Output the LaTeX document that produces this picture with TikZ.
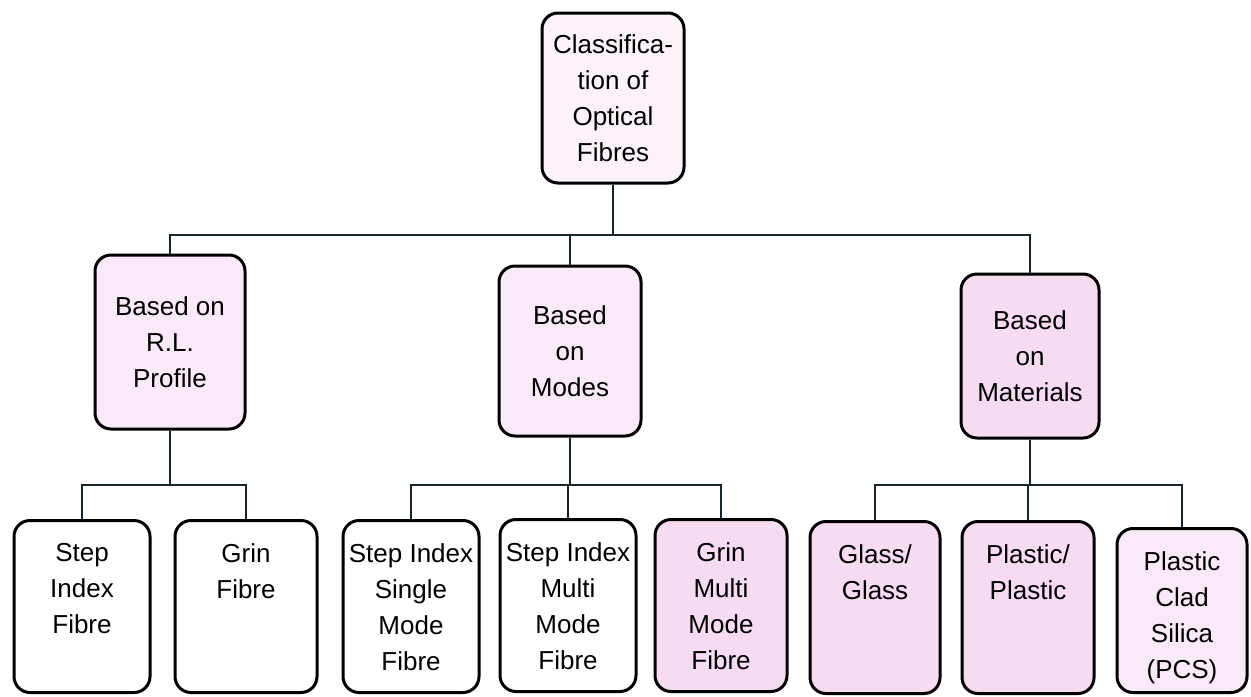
\documentclass[tikz,border=0pt]{standalone}
\usepackage{fontspec}
\setmainfont{Liberation Sans}
\usetikzlibrary{positioning}
\definecolor{rootpink}{RGB}{252,243,250}
\definecolor{boxpale}{RGB}{250,234,247}
\definecolor{boxpink}{RGB}{246,219,241}
\definecolor{linedark}{RGB}{22,38,44}

\begin{document}
\begin{tikzpicture}[
  x=0.5pt, y=-0.5pt,
  font=\fontsize{13}{18}\selectfont,
  group/.style={draw, line width=1.5pt, rounded corners=8pt, align=center, minimum width=71pt, minimum height=85pt, inner sep=0pt},
  leaf/.style={draw, line width=1.5pt, rounded corners=8pt, minimum width=68pt, minimum height=86pt, anchor=north, inner sep=0pt},
  leaftext/.style={anchor=north, align=center, inner sep=0pt, yshift=-12pt},
  conn/.style={draw=linedark, line width=1.4pt}
]
\useasboundingbox (0,0) rectangle (1251,696);

% top and middle level
\node[group, fill=rootpink] (root) at (613,98) {Classifica-\\tion of\\Optical\\Fibres};
\node[group, fill=boxpale, minimum width=75pt, minimum height=87pt] (profile) at (170,342) {Based on\\R.L.\\Profile};
\node[group, fill=boxpale] (modes) at (570,351) {Based\\on\\Modes};
\node[group, fill=boxpink, minimum width=69pt, minimum height=82pt] (materials) at (1030,356) {Based\\on\\Materials};

% bottom level
\node[leaf, fill=white, label={[leaftext]north:Step\\Index\\Fibre}] (stepidx) at (82,519) {};
\node[leaf, fill=white, minimum width=71pt, label={[leaftext]north:Grin\\Fibre}] (grin) at (246,519) {};
\node[leaf, fill=white, label={[leaftext]north:Step Index\\Single\\Mode\\Fibre}] (stepsingle) at (411,519) {};
\node[leaf, fill=white, label={[leaftext]north:Step Index\\Multi\\Mode\\Fibre}] (stepmulti) at (568,518) {};
\node[leaf, fill=boxpink, minimum width=66pt, label={[leaftext]north:Grin\\Multi\\Mode\\Fibre}] (grinmulti) at (721,518) {};
\node[leaf, fill=boxpink, minimum width=65pt, label={[leaftext]north:Glass/\\Glass}] (glass) at (875,520) {};
\node[leaf, fill=boxpink, minimum width=66pt, label={[leaftext]north:Plastic/\\Plastic}] (plastic) at (1028,520) {};
\node[leaf, fill=boxpale, minimum width=65pt, minimum height=82pt, label={[leaftext]north:Plastic\\Clad\\Silica\\(PCS)}] (pcs) at (1182,527) {};

\coordinate (topbar) at (0,235);
\coordinate (lowbar) at (0,485);

\draw[conn] (root.south) -- (root.south |- topbar);
\draw[conn] (profile.north) |- (materials.north |- topbar) -- (materials.north);
\draw[conn] (modes.north) -- (modes.north |- topbar);

\draw[conn] (profile.south) -- (profile.south |- lowbar);
\draw[conn] (stepidx.north) |- (grin.north |- lowbar) -- (grin.north);

\draw[conn] (modes.south) -- (modes.south |- lowbar);
\draw[conn] (stepsingle.north) |- (grinmulti.north |- lowbar) -- (grinmulti.north);
\draw[conn] (stepmulti.north) -- (stepmulti.north |- lowbar);

\draw[conn] (materials.south) -- (materials.south |- lowbar);
\draw[conn] (glass.north) |- (pcs.north |- lowbar) -- (pcs.north);
\draw[conn] (plastic.north) -- (plastic.north |- lowbar);
\end{tikzpicture}
\end{document}
